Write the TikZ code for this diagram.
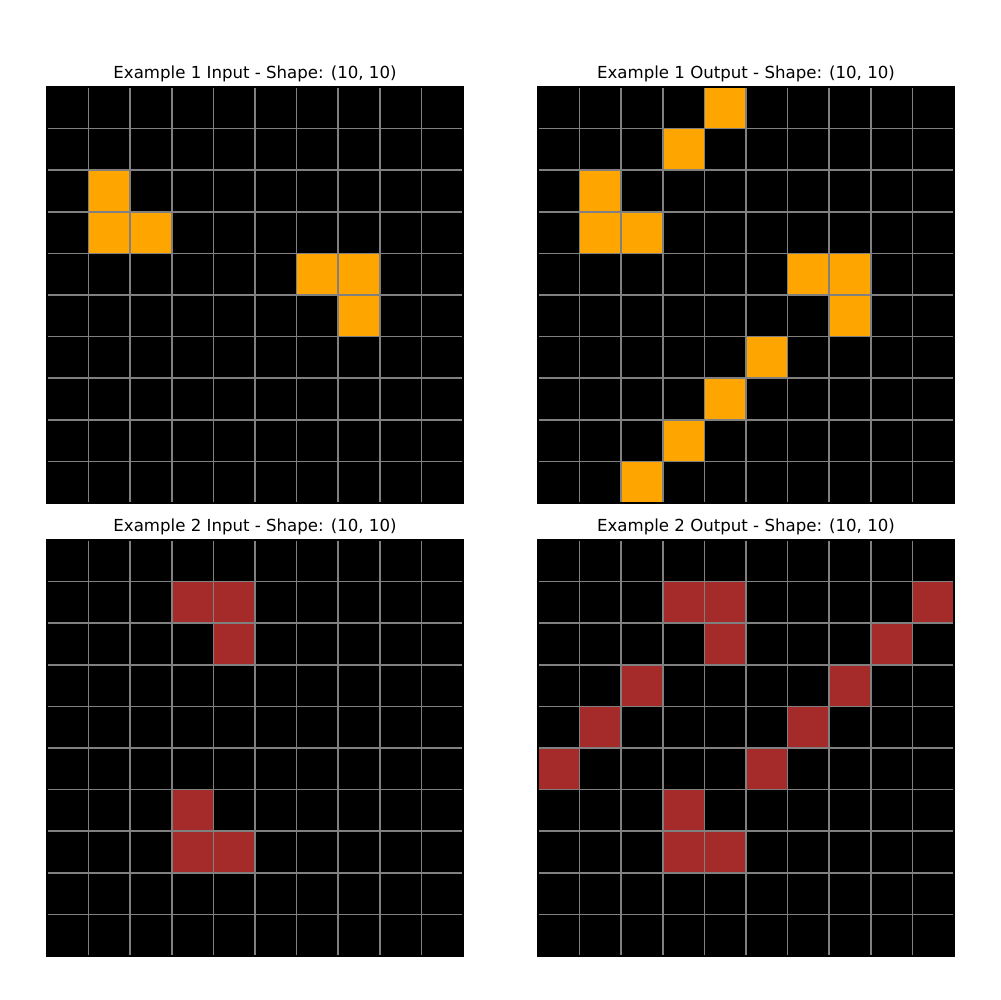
\documentclass[tikz,border=0pt]{standalone}
\usepackage{fontspec}
\setmainfont{DejaVu Sans}
\usetikzlibrary{positioning}
\definecolor{arcorange}{RGB}{255,165,0}
\definecolor{arcred}{RGB}{165,42,42}
\definecolor{arcgrid}{RGB}{128,128,128}
\tikzset{gridline/.style={draw=arcgrid,line width=1.1pt},
  spine/.style={draw=black,line width=0.8pt},
  paneltitle/.style={font=\fontsize{12}{14}\selectfont,anchor=base,inner sep=0pt}}
% one 10x10 panel: x, y, name, title, cells (row/col), colour
\newcommand{\drawpanel}[6]{%
  \begin{scope}[shift={(#1,#2)}]
    \fill[black] (0,0) rectangle (416,416);
    \foreach \r/\c in {#5}
      \fill[#6] (\c*41.6,\r*41.6) rectangle ++(41.6,41.6);
    \foreach \i in {1,...,9} {
      \draw[gridline] (\i*41.6,0) -- (\i*41.6,416);
      \draw[gridline] (0,\i*41.6) -- (416,\i*41.6);
    }
    \draw[spine] (0,0) rectangle (416,416);
    \node[paneltitle] (#3) at (208,-8.3) {#4};
  \end{scope}}

\begin{document}
\begin{tikzpicture}[x=0.0254cm,y=-0.0254cm]
\useasboundingbox[fill=white] (0,0) rectangle (1000,1000);
\drawpanel{47}{87}{in1}{Example 1 Input - Shape: (10, 10)}
  {2/1,3/1,3/2,4/6,4/7,5/7}{arcorange}
\drawpanel{538}{87}{out1}{Example 1 Output - Shape: (10, 10)}
  {0/4,1/3,2/1,3/1,3/2,4/6,4/7,5/7,6/5,7/4,8/3,9/2}{arcorange}
\drawpanel{47}{540}{in2}{Example 2 Input - Shape: (10, 10)}
  {1/3,1/4,2/4,6/3,7/3,7/4}{arcred}
\drawpanel{538}{540}{out2}{Example 2 Output - Shape: (10, 10)}
  {1/3,1/4,2/4,1/9,2/8,3/7,4/6,5/5,3/2,4/1,5/0,6/3,7/3,7/4}{arcred}
\end{tikzpicture}
\end{document}
